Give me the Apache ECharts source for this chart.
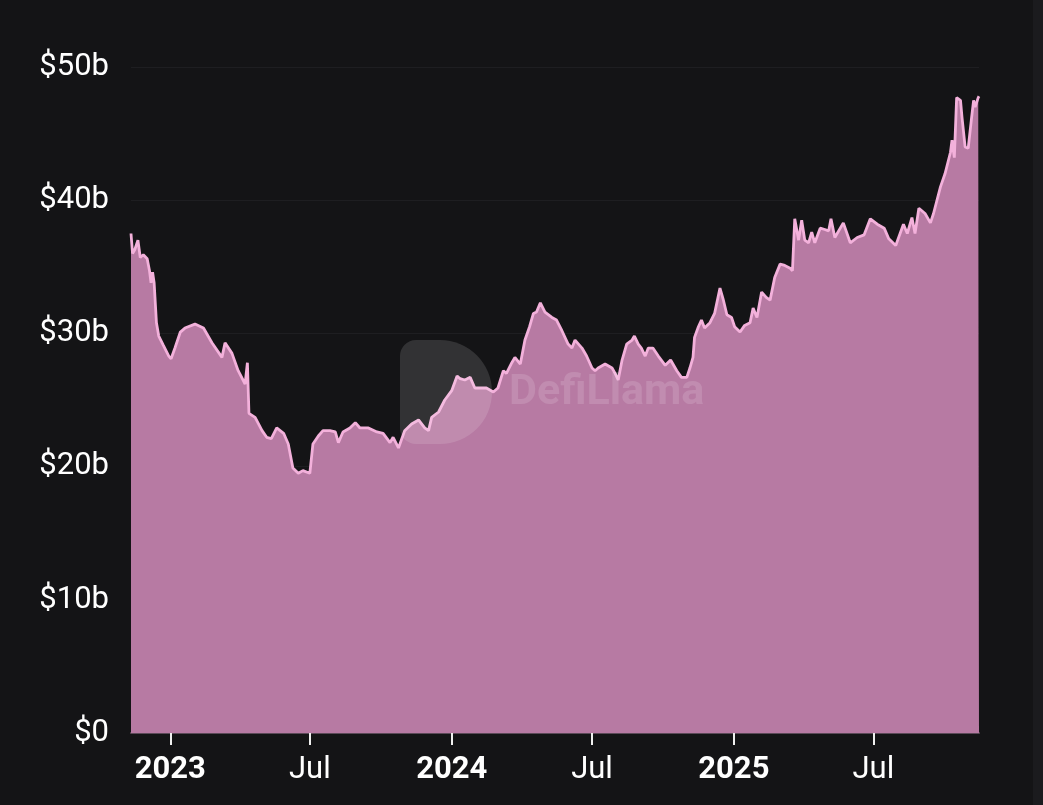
<!DOCTYPE html>
<html>
<head>
<meta charset="utf-8">
<script src="https://cdn.jsdelivr.net/npm/echarts@6/dist/echarts.min.js"></script>
<style>
html,body{margin:0;padding:0;background:#141416;}
#chart{width:1043px;height:805px;}
</style>
</head>
<body>
<div id="chart"></div>
<script>
const dates = [
'2022-11-11','2022-11-13','2022-11-16','2022-11-20','2022-11-23','2022-11-27','2022-12-02','2022-12-05','2022-12-07','2022-12-09',
'2022-12-11','2022-12-14','2022-12-17','2022-12-23','2022-12-30','2023-01-02','2023-01-07','2023-01-14','2023-01-20','2023-02-02',
'2023-02-13','2023-02-24','2023-03-09','2023-03-13','2023-03-22','2023-03-30','2023-04-08','2023-04-11','2023-04-13','2023-04-21',
'2023-04-30','2023-05-06','2023-05-12','2023-05-19','2023-05-28','2023-06-03','2023-06-09','2023-06-16','2023-06-22','2023-07-01',
'2023-07-05','2023-07-12','2023-07-18','2023-07-27','2023-08-03','2023-08-07','2023-08-13','2023-08-22','2023-08-29','2023-09-04',
'2023-09-15','2023-09-26','2023-10-04','2023-10-13','2023-10-17','2023-10-24','2023-11-01','2023-11-10','2023-11-19','2023-11-27',
'2023-12-02','2023-12-06','2023-12-15','2023-12-23','2024-01-01','2024-01-08','2024-01-12','2024-01-18','2024-01-25','2024-01-31',
'2024-02-07','2024-02-15','2024-02-24','2024-03-01','2024-03-08','2024-03-12','2024-03-19','2024-03-23','2024-03-30','2024-04-05',
'2024-04-11','2024-04-16','2024-04-20','2024-04-25','2024-05-01','2024-05-10','2024-05-16','2024-05-23','2024-05-31','2024-06-05',
'2024-06-09','2024-06-18','2024-06-24','2024-07-01','2024-07-05','2024-07-09','2024-07-18','2024-07-27','2024-07-31','2024-08-04',
'2024-08-09','2024-08-15','2024-08-22','2024-08-25','2024-08-30','2024-09-03','2024-09-08','2024-09-12','2024-09-18','2024-09-25',
'2024-10-04','2024-10-11','2024-10-19','2024-10-25','2024-11-01','2024-11-05','2024-11-09','2024-11-11','2024-11-16','2024-11-20',
'2024-11-24','2024-12-01','2024-12-07','2024-12-14','2024-12-18','2024-12-23','2024-12-29','2025-01-02','2025-01-09','2025-01-15',
'2025-01-22','2025-01-26','2025-01-31','2025-02-06','2025-02-12','2025-02-17','2025-02-23','2025-03-02','2025-03-08','2025-03-15',
'2025-03-18','2025-03-21','2025-03-26','2025-03-30','2025-04-03','2025-04-08','2025-04-12','2025-04-16','2025-04-23','2025-04-29',
'2025-05-04','2025-05-07','2025-05-12','2025-05-23','2025-06-01','2025-06-10','2025-06-19','2025-06-27','2025-07-06','2025-07-15',
'2025-07-21','2025-07-30','2025-08-09','2025-08-14','2025-08-20','2025-08-24','2025-08-29','2025-09-06','2025-09-13','2025-09-17',
'2025-09-26','2025-10-02','2025-10-09','2025-10-11','2025-10-14','2025-10-17','2025-10-22','2025-10-24','2025-10-28','2025-11-01',
'2025-11-05','2025-11-08','2025-11-10','2025-11-14','2025-11-15'
];
const tvl = [
37.5,36.0,36.3,37.0,35.7,35.9,35.6,34.7,33.8,34.6,
33.8,30.8,29.8,29.1,28.3,28.1,28.9,30.1,30.4,30.7,
30.4,29.3,28.2,29.3,28.5,27.2,26.2,27.8,24.0,23.7,
22.7,22.2,22.1,22.9,22.5,21.7,19.9,19.5,19.7,19.5,
21.7,22.3,22.7,22.7,22.6,21.8,22.6,22.9,23.3,22.9,
22.9,22.6,22.5,21.8,22.2,21.4,22.7,23.2,23.5,22.9,
22.7,23.7,24.1,25.0,25.7,26.8,26.6,26.5,26.7,25.9,
25.9,25.9,25.6,25.9,27.2,27.0,27.8,28.2,27.7,29.5,
30.5,31.5,31.6,32.3,31.6,31.2,31.0,30.2,29.2,28.9,
29.5,28.9,28.3,27.4,27.2,27.4,27.7,27.4,27.0,26.5,
28.0,29.2,29.5,29.8,29.2,28.9,28.3,28.9,28.9,28.3,
27.6,28.0,27.2,26.7,26.7,27.4,28.2,29.7,30.5,31.0,
30.4,30.8,31.5,33.4,32.6,31.4,31.2,30.5,30.1,30.6,
30.8,31.9,31.2,33.1,32.7,32.5,34.2,35.2,35.1,34.9,
34.7,38.6,37.0,38.5,37.0,36.8,37.6,36.8,37.9,37.8,
37.7,38.6,37.2,38.3,36.8,37.2,37.4,38.6,38.2,37.9,
37.1,36.6,38.2,37.5,38.7,37.5,39.4,39.0,38.3,39.0,
41.0,42.0,43.6,44.5,43.2,47.7,47.5,46.2,44.0,43.9,
46.0,47.5,47.0,47.7,47.8
];
const yTicks = [0,10,20,30,40,50];
const monthNames = ['Jan','Feb','Mar','Apr','May','Jun','Jul','Aug','Sep','Oct','Nov','Dec'];

const seriesData = dates.map((d, i) => [d, tvl[i]]);
const DAY = 86400000;

const chart = echarts.init(document.getElementById('chart'));
chart.setOption({
  backgroundColor: '#141416',
  animation: false,
  textStyle: { fontFamily: 'Roboto' },
  grid: { left: 131, right: 64, top: 67, bottom: 72, containLabel: false },
  xAxis: {
    type: 'time',
    min: '2022-11-11',
    max: '2025-11-15',
    minInterval: 170 * DAY,
    maxInterval: 190 * DAY,
    axisLine: { show: true, lineStyle: { color: '#5c4a58', width: 2 } },
    axisTick: { show: true, length: 12, lineStyle: { color: '#f0f0f0', width: 2 } },
    splitLine: { show: false },
    axisLabel: {
      color: '#ffffff',
      fontSize: 31,
      margin: 22,
      showMinLabel: false,
      showMaxLabel: false,
      formatter: function (val) {
        const d = new Date(val);
        if (d.getMonth() === 0) return '{y|' + d.getFullYear() + '}';
        return monthNames[d.getMonth()];
      },
      rich: { y: { fontWeight: 'bold', fontSize: 31, color: '#ffffff' } }
    }
  },
  yAxis: {
    type: 'value',
    min: yTicks[0],
    max: yTicks[yTicks.length - 1],
    interval: 10,
    axisLine: { show: false },
    axisTick: { show: false },
    splitLine: { show: true, lineStyle: { color: '#1e1e21', width: 1 } },
    axisLabel: {
      color: '#ffffff',
      fontSize: 31,
      margin: 22,
      formatter: function (v) { return v === 0 ? '$0' : '$' + v + 'b'; }
    }
  },
  graphic: [
    {
      type: 'rect', left: 1033, top: 0,
      shape: { width: 10, height: 805 },
      style: { fill: '#1b1b1e' }, z: 0
    },
    {
      type: 'rect', left: 400, top: 340, z: 100,
      shape: { width: 92, height: 104, r: [16, 52, 52, 16] },
      style: { fill: 'rgba(255,255,255,0.13)' }
    },
    {
      type: 'text', left: 509, top: 372, z: 100,
      style: { text: 'DefiLlama', font: 'bold 43px Roboto', fill: 'rgba(255,255,255,0.14)' }
    }
  ],
  series: [{
    type: 'line',
    data: seriesData,
    showSymbol: false,
    symbol: 'none',
    lineStyle: { color: '#f3b1db', width: 2.8 },
    areaStyle: { color: '#b77aa3', opacity: 1 },
    z: 2
  }]
});
</script>
</body>
</html>
